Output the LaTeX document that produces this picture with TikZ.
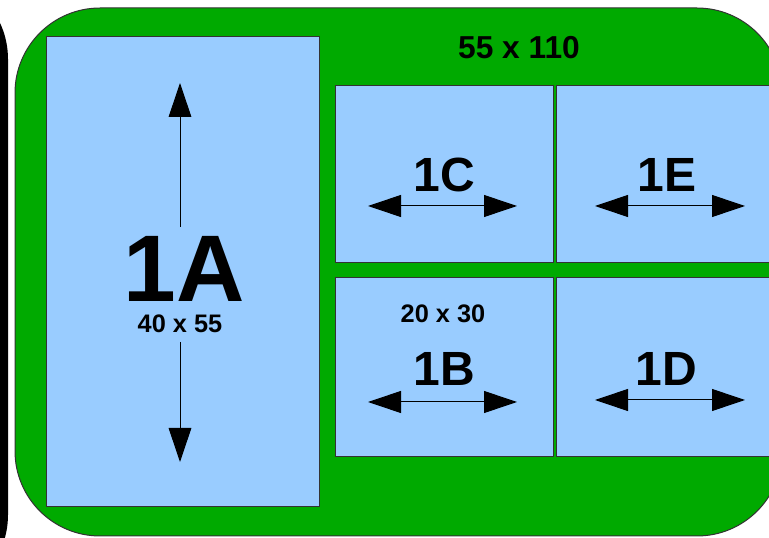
\documentclass[tikz,border=0pt]{standalone}
\usepackage{fontspec}
\setmainfont{Liberation Sans}
\usepackage{tikz}
\usetikzlibrary{arrows.meta}
\definecolor{boardgreen}{HTML}{00AA00}
\definecolor{pieceblue}{HTML}{99CCFF}
\tikzstyle{board} = [fill=boardgreen, draw=black!80, line width=0.75pt, rounded corners=63.75pt]
\tikzstyle{piece} = [fill=pieceblue, draw=black!80, line width=0.75pt]
\tikzstyle{biglabel} = [font=\bfseries\fontsize{71}{71}\selectfont, inner sep=0pt]
\tikzstyle{label} = [font=\bfseries\fontsize{36}{36}\selectfont, inner sep=0pt]
\tikzstyle{size} = [font=\bfseries\fontsize{19}{19}\selectfont, inner sep=0pt]
\tikzstyle{dimarrow} = [line width=0.75pt, {Triangle[length=24.75pt, width=16.5pt]}-{Triangle[length=24.75pt, width=16.5pt]}]
\tikzstyle{vertarrow} = [line width=0.75pt, -{Triangle[length=25.5pt, width=17pt]}]

\begin{document}
\begin{tikzpicture}[x=0.75pt, y=-0.75pt]
    \useasboundingbox (0,0) rectangle (769,538);
    \clip (0,0) rectangle (769,538);

    % neighbour on the left and the board
    \fill [black, rounded corners=63.75pt] (-200,-26) rectangle (8,600);
    \draw [board] (15,8) rectangle (782,536);

    % pieces
    \draw [piece] (46,37) rectangle (319,507);
    \draw [piece] (335,86) rectangle (553,263);
    \draw [piece] (556,86) rectangle (774,263);
    \draw [piece] (335,278) rectangle (553,457);
    \draw [piece] (556,278) rectangle (774,457);

    % texts
    \node (sizeBoard) [size, font=\bfseries\fontsize{23.8}{23.8}\selectfont] at (519,48) {55 x 110};
    \node (lbl1A) [biglabel] at (184,269) {1A};
    \node (size1A) [size] at (180,324) {40 x 55};
    \node (lbl1C) [label] at (444,175) {1C};
    \node (lbl1E) [label] at (667,175) {1E};
    \node (size1B) [size] at (443,314) {20 x 30};
    \node (lbl1B) [label] at (444,369) {1B};
    \node (lbl1D) [label] at (666,369) {1D};

    % arrow ends
    \coordinate (up1A) at (180,227);
    \coordinate (top1A) at (180,83);
    \coordinate (down1A) at (180,342);
    \coordinate (bot1A) at (180,462);
    \coordinate (l1C) at (368,206);
    \coordinate (r1C) at (517,206);
    \coordinate (l1E) at (595,206);
    \coordinate (r1E) at (745,206);
    \coordinate (l1B) at (368,402);
    \coordinate (r1B) at (517,402);
    \coordinate (l1D) at (595,400);
    \coordinate (r1D) at (745,400);

    \draw [vertarrow] (up1A) -- (top1A);
    \draw [vertarrow] (down1A) -- (bot1A);
    \draw [dimarrow] (l1C) -- (r1C);
    \draw [dimarrow] (l1E) -- (r1E);
    \draw [dimarrow] (l1B) -- (r1B);
    \draw [dimarrow] (l1D) -- (r1D);
\end{tikzpicture}
\end{document}
